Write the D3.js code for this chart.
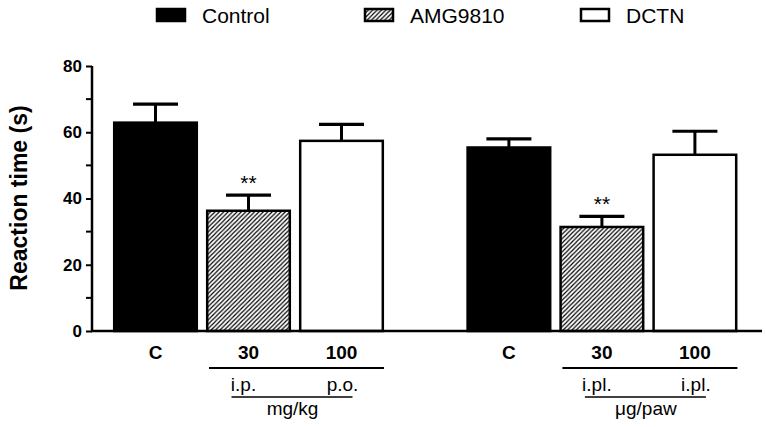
<!DOCTYPE html>
<html><head><meta charset="utf-8">
<script src="https://cdn.jsdelivr.net/npm/d3@7"></script>
<style>body{margin:0;background:#fff}svg{display:block;font-family:"Liberation Sans",Arial,sans-serif}</style>
</head><body><div id="chart"></div>
<script>
const seriesNames = ["Control", "AMG9810", "DCTN"];
const barLabels = ["C", "30", "100"];
const groupRoutes = [["i.p.", "p.o."], ["i.pl.", "i.pl."]];
const groupUnits = ["mg/kg", "\u03bcg/paw"];
const means = [[62.9, 36.3, 57.4], [55.4, 31.4, 53.2]];
const sems = [[5.6, 4.7, 5.0], [2.6, 3.2, 7.1]];
const signif = [["", "**", ""], ["", "**", ""]];
const yTicks = [0, 20, 40, 60, 80];
const yMinor = [10, 30, 50, 70];

const W = 766, H = 427;
const svg = d3.select("#chart").append("svg").attr("width", W).attr("height", H);
const defs = svg.append("defs");
const pat = defs.append("pattern").attr("id", "hatch").attr("patternUnits", "userSpaceOnUse")
  .attr("width", 4.4).attr("height", 4.4);
pat.append("rect").attr("width", 4.4).attr("height", 4.4).attr("fill", "#fff");
pat.append("path").attr("d", "M-1.1,1.1 L1.1,-1.1 M0,4.4 L4.4,0 M3.3,5.5 L5.5,3.3")
  .attr("stroke", "#000").attr("stroke-width", 1.2);

const fills = ["#000", "url(#hatch)", "#fff"];

const y = d3.scaleLinear().domain([0, 80]).range([331, 66]);
const x = d3.scaleLinear().domain([0, 1]).range([113, 206]);
const groupGap = 3.8;
const slot = (g, i) => g * groupGap + i;
const barW = (x(1) - x(0)) * 0.914;

// axes
const yAxis = d3.axisLeft(y).tickValues(yTicks).tickSize(6).tickPadding(4);
const ga = svg.append("g").attr("transform", "translate(92,0)").call(yAxis);
ga.select(".domain").attr("stroke-width", 2.5).attr("d", `M0,${y(80)}V${y(0)}`);
ga.selectAll(".tick line").attr("stroke-width", 2);
ga.selectAll(".tick text").attr("font-size", 17).attr("font-weight", "bold")
  .attr("font-family", "Liberation Sans, Arial, sans-serif").attr("fill", "#000");
svg.append("g").selectAll("line").data(yMinor).join("line")
  .attr("x1", 86).attr("x2", 92).attr("y1", d => y(d)).attr("y2", d => y(d))
  .attr("stroke", "#000").attr("stroke-width", 2);

svg.append("text").attr("transform", `translate(27,198) rotate(-90)`)
  .attr("text-anchor", "middle").attr("font-size", 23).attr("font-weight", "bold").text("Reaction time (s)");

// bars
const data = [];
means.forEach((row, g) => row.forEach((v, i) => data.push({g, i, v, e: sems[g][i], s: signif[g][i]})));

const bars = svg.append("g");
data.forEach(d => {
  const x0 = x(slot(d.g, d.i));
  const cx = x0 + barW / 2;
  bars.append("line").attr("x1", cx).attr("x2", cx).attr("y1", y(d.v)).attr("y2", y(d.v + d.e))
    .attr("stroke", "#000").attr("stroke-width", 3);
  bars.append("line").attr("x1", cx - 22.5).attr("x2", cx + 22.5).attr("y1", y(d.v + d.e)).attr("y2", y(d.v + d.e))
    .attr("stroke", "#000").attr("stroke-width", 3.2);
  bars.append("rect").attr("x", x0 + 1.2).attr("y", y(d.v)).attr("width", barW - 2.4).attr("height", y(0) - y(d.v))
    .attr("fill", fills[d.i]).attr("stroke", "#000").attr("stroke-width", 2.5);
  if (d.s) bars.append("text").attr("x", cx).attr("y", y(d.v + d.e) - 5).attr("text-anchor", "middle")
    .attr("font-size", 21).text(d.s);
  svg.append("text").attr("x", cx).attr("y", 359).attr("text-anchor", "middle")
    .attr("font-size", 19).attr("font-weight", "bold").text(barLabels[d.i]);
});

// x axis baseline
svg.append("line").attr("x1", 91).attr("x2", 762).attr("y1", y(0)).attr("y2", y(0))
  .attr("stroke", "#000").attr("stroke-width", 2.5);

// group annotations
groupUnits.forEach((u, g) => {
  const aL = x(slot(g, 1)), aC = aL + barW / 2;
  const dL = x(slot(g, 2)), dC = dL + barW / 2, dR = dL + barW;
  svg.append("line").attr("x1", aL + 3).attr("x2", dR).attr("y1", 368).attr("y2", 368)
    .attr("stroke", "#000").attr("stroke-width", 2.2);
  svg.append("text").attr("x", aC - 5).attr("y", 391).attr("text-anchor", "middle").attr("font-size", 19).text(groupRoutes[g][0]);
  svg.append("text").attr("x", dC + 1).attr("y", 391).attr("text-anchor", "middle").attr("font-size", 19).text(groupRoutes[g][1]);
  svg.append("line").attr("x1", aC - 17).attr("x2", aC + 104).attr("y1", 397).attr("y2", 397)
    .attr("stroke", "#000").attr("stroke-width", 1.5);
  svg.append("text").attr("x", aC + 44).attr("y", 415).attr("text-anchor", "middle").attr("font-size", 19).text(u);
});

// legend
const legX = [156, 364, 580];
seriesNames.forEach((n, i) => {
  svg.append("rect").attr("x", legX[i] + 1).attr("y", 9).attr("width", 28).attr("height", 12)
    .attr("fill", fills[i]).attr("stroke", "#000").attr("stroke-width", 2.5);
  svg.append("text").attr("x", legX[i] + 46).attr("y", 23).attr("font-size", 21).text(n);
});
</script></body></html>
